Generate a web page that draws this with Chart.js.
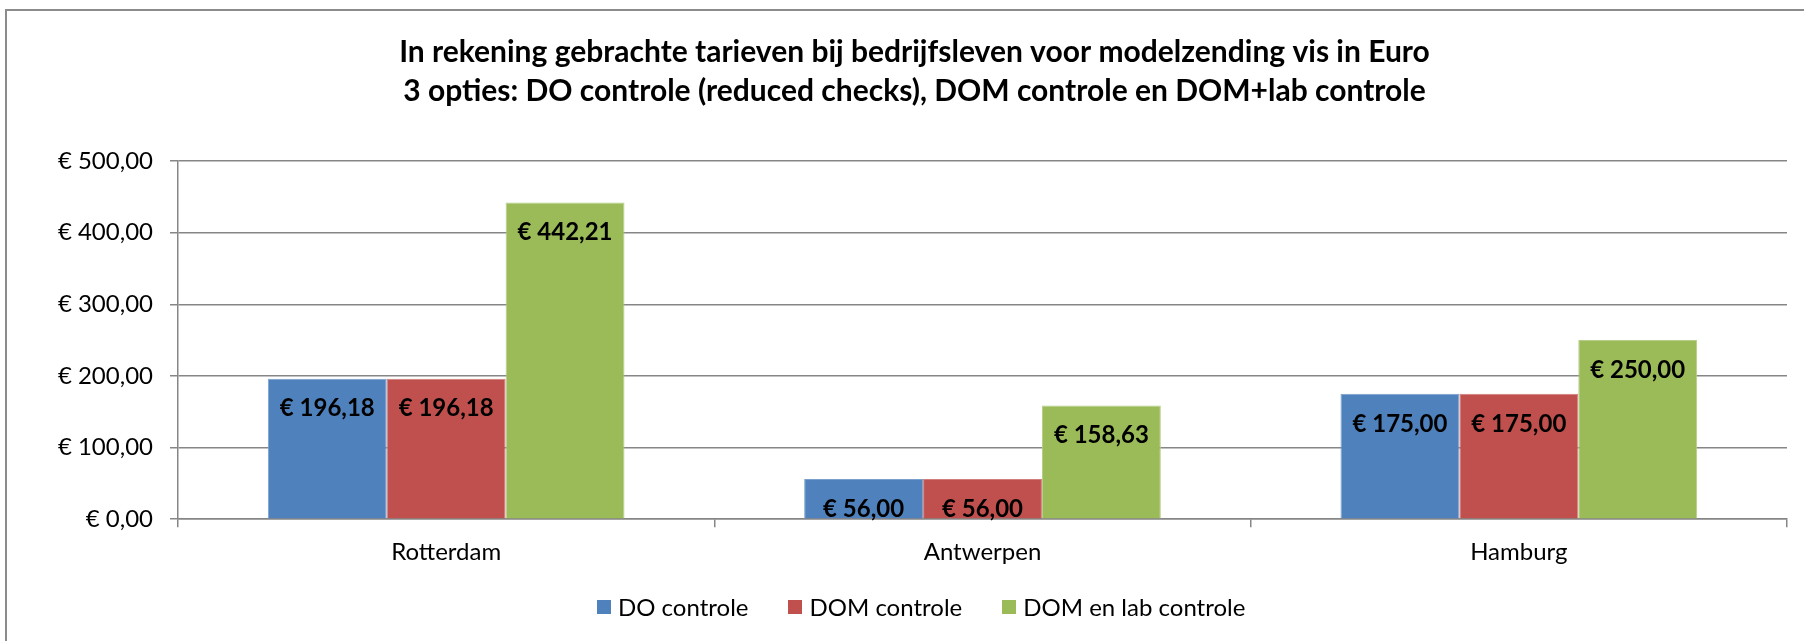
<!DOCTYPE html>
<html>
<head>
<meta charset="utf-8">
<script src="https://cdn.jsdelivr.net/npm/chart.js@4.4.1/dist/chart.umd.min.js"></script>
<style>
  html, body { margin: 0; padding: 0; background: #fff; }
  #wrap { position: relative; width: 1804px; height: 641px; overflow: hidden; }
  #frame { position: absolute; left: 5px; top: 9px; width: 1900px; height: 700px;
           border-left: 2px solid #8c8c8c; border-top: 2px solid #8c8c8c; }
  canvas { position: absolute; left: 0; top: 0; }
  #legenda { position: absolute; left: 597px; top: 592px; display: flex; align-items: center;
             font-family: Lato, "Open Sans", sans-serif; font-size: 24px; color: #000; line-height: 30px; }
  #legenda .item { display: flex; align-items: center; margin-right: 40px; }
  #legenda .blok { width: 14px; height: 14px; margin-right: 7px; }
</style>
</head>
<body>
<div id="wrap">
  <div id="frame"></div>
  <canvas id="myChart" width="1804" height="641"></canvas>
  <div id="legenda"></div>
</div>
<script>
// data //
const steden = ['Rotterdam', 'Antwerpen', 'Hamburg'];
const doControle = [196.18, 56.00, 175.00];
const domControle = [196.18, 56.00, 175.00];
const domLabControle = [442.21, 158.63, 250.00];
const yTicks = [0, 100, 200, 300, 400, 500];

const lettertype = 'Lato, "Open Sans", sans-serif';

function euro (v) {
    return '€ ' + Number(v).toFixed(2).replace('.', ',');
}

// labels in de balken //
const waardeLabels = {
    id: 'waardeLabels',
    afterDatasetsDraw (chart) {
        const c = chart.ctx;
        c.save();
        c.font = 'bold 24px ' + lettertype;
        c.fillStyle = '#000';
        c.textAlign = 'center';
        c.textBaseline = 'middle';
        chart.data.datasets.forEach((ds, i) => {
            chart.getDatasetMeta(i).data.forEach((bar, j) => {
                c.fillText(euro(ds.data[j]), bar.x, bar.y + 30);
            });
        });
        c.restore();
    }
};

const ctx = document.getElementById('myChart');

const grafiek = new Chart(ctx, {
    type: 'bar',
    data: {
        labels: steden,
        datasets: [{
            label: 'DO controle',
            data: doControle,
            backgroundColor: '#4F81BD',
            borderColor: '#7A9FCD',
            borderWidth: 1
        }, {
            label: 'DOM controle',
            data: domControle,
            backgroundColor: '#C0504D',
            borderColor: '#D07D7B',
            borderWidth: 1
        }, {
            label: 'DOM en lab controle',
            data: domLabControle,
            backgroundColor: '#9BBB59',
            borderColor: '#B6CE87',
            borderWidth: 1
        }]
    },
    options: {
        responsive: false,
        animation: false,
        layout: { padding: { left: 42, right: 17, top: 0, bottom: 63 } },
        datasets: {
            bar: { categoryPercentage: 0.665, barPercentage: 1.0 }
        },
        plugins: {
            title: {
                display: true,
                text: ['In rekening gebrachte tarieven bij bedrijfsleven voor modelzending vis in Euro',
                       '3 opties: DO controle (reduced checks), DOM controle en DOM+lab controle'],
                color: '#000',
                font: { family: lettertype, size: 30, weight: 'bold', lineHeight: '39px' },
                padding: { top: 32.5, bottom: 50.5 }
            },
            legend: { display: false },
            tooltip: { enabled: false }
        },
        scales: {
            x: {
                ticks: {
                    color: '#000',
                    font: { family: lettertype, size: 24 },
                    padding: 11
                },
                grid: {
                    offset: true,
                    drawOnChartArea: false,
                    color: '#868686',
                    lineWidth: 1.5,
                    tickLength: 8
                },
                border: { color: '#868686', width: 1.5 }
            },
            y: {
                min: 0,
                max: 500,
                afterBuildTicks (scale) {
                    scale.ticks = yTicks.map(v => ({ value: v }));
                },
                afterFit (scale) {
                    scale.width = 136;
                },
                ticks: {
                    color: '#000',
                    font: { family: lettertype, size: 24 },
                    padding: 17,
                    callback: v => euro(v)
                },
                grid: {
                    color: '#868686',
                    lineWidth: 1.5,
                    tickLength: 8
                },
                border: { color: '#868686', width: 1.5 }
            }
        }
    },
    plugins: [waardeLabels]
});

// legenda onder de grafiek //
const legenda = document.getElementById('legenda');
grafiek.data.datasets.forEach(ds => {
    const item = document.createElement('div');
    item.className = 'item';
    const blok = document.createElement('span');
    blok.className = 'blok';
    blok.style.background = ds.backgroundColor;
    const tekst = document.createElement('span');
    tekst.textContent = ds.label;
    item.appendChild(blok);
    item.appendChild(tekst);
    legenda.appendChild(item);
});
</script>
</body>
</html>
